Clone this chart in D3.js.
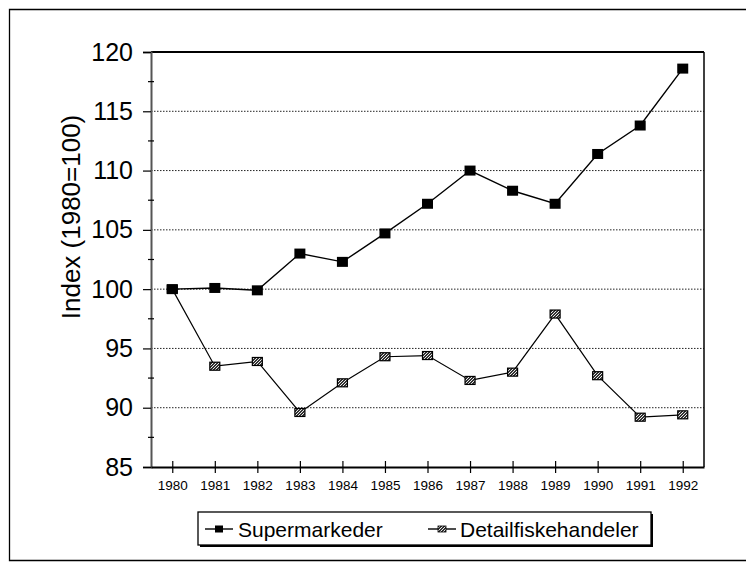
<!DOCTYPE html>
<html>
<head>
<meta charset="utf-8">
<script src="https://cdn.jsdelivr.net/npm/d3@7/dist/d3.min.js"></script>
<style>
  html, body { margin: 0; padding: 0; background: #fff; }
  svg { display: block; }
</style>
</head>
<body>
<svg id="chart" width="746" height="564"></svg>
<script>
const years = ["1980","1981","1982","1983","1984","1985","1986","1987","1988","1989","1990","1991","1992"];
const supermarkeder = [100, 100.1, 99.9, 103.0, 102.3, 104.7, 107.2, 110.0, 108.3, 107.2, 111.4, 113.8, 118.6];
const detailfiskehandeler = [100, 93.5, 93.9, 89.6, 92.1, 94.3, 94.4, 92.3, 93.0, 97.9, 92.7, 89.2, 89.4];
const yTicks = [85, 90, 95, 100, 105, 110, 115, 120];
const gridValues = [90, 95, 100, 105, 110, 115];
const seriesNames = ["Supermarkeder", "Detailfiskehandeler"];
const yTitle = "Index (1980=100)";

(function () {
const svg = d3.select("#chart");
const font = "'Liberation Sans', Arial, sans-serif";

const defs = svg.append("defs");
const pat = defs.append("pattern").attr("id", "hatch").attr("patternUnits", "userSpaceOnUse")
  .attr("width", 3).attr("height", 3);
pat.append("rect").attr("width", 3).attr("height", 3).attr("fill", "#333");
pat.append("path").attr("d", "M0,3 L3,0").attr("stroke", "#fff").attr("stroke-width", 0.9);

// outer frame
svg.append("path").attr("d", "M760,9.5 L9.5,9.5 L9.5,560.5 L760,560.5")
  .attr("fill", "none").attr("stroke", "#000").attr("stroke-width", 1.3);

const pL = 151, pR = 704, pT = 52, pB = 467;
const x = d3.scalePoint().domain(years).range([pL, pR]).padding(0.5);
const y = d3.scaleLinear().domain([85, 120]).range([pB, pT]);

svg.append("g").selectAll("line").data(gridValues).join("line")
  .attr("x1", pL).attr("x2", pR)
  .attr("y1", d => y(d)).attr("y2", d => y(d))
  .attr("stroke", "#222").attr("stroke-width", 1).attr("stroke-dasharray", "1.5,1.5");

svg.append("line").attr("x1", pL).attr("x2", pR).attr("y1", pT).attr("y2", pT)
  .attr("stroke", "#000").attr("stroke-width", 2);
svg.append("line").attr("x1", pR).attr("x2", pR).attr("y1", pT).attr("y2", pB)
  .attr("stroke", "#000").attr("stroke-width", 1.5);

const yAxis = d3.axisLeft(y).tickValues(yTicks).tickSize(8).tickPadding(10);
const gy = svg.append("g").attr("transform", `translate(${pL},0)`).call(yAxis);
gy.select(".domain").attr("stroke", "#555").attr("stroke-width", 2);
gy.selectAll(".tick line").attr("stroke", "#000").attr("stroke-width", 1.2);
gy.selectAll("text").attr("font-family", font).attr("font-size", 25).attr("fill", "#000");
const minor = d3.range(87.5, 120, 5);
svg.append("g").selectAll("line").data(minor).join("line")
  .attr("x1", pL - 3).attr("x2", pL + 3)
  .attr("y1", d => y(d)).attr("y2", d => y(d))
  .attr("stroke", "#000").attr("stroke-width", 1.2);

const xAxis = d3.axisBottom(x).tickSize(0).tickPadding(13);
const gx = svg.append("g").attr("transform", `translate(0,${pB})`).call(xAxis);
gx.select(".domain").attr("stroke", "#000").attr("stroke-width", 2);
gx.selectAll("text").attr("font-family", "'Liberation Sans Narrow', 'Liberation Sans', Arial, sans-serif")
  .attr("font-size", 13.5).attr("fill", "#000");
gx.selectAll(".tick").append("line").attr("y1", -6).attr("y2", 6)
  .attr("stroke", "#000").attr("stroke-width", 1.2);

svg.append("text").attr("transform", `translate(80,217) rotate(-90)`)
  .attr("text-anchor", "middle").attr("font-family", font).attr("font-size", 26)
  .text(yTitle);

const line = d3.line().x((d, i) => x(years[i])).y(d => y(d));
svg.append("path").datum(detailfiskehandeler).attr("d", line)
  .attr("fill", "none").attr("stroke", "#000").attr("stroke-width", 1.2);
svg.append("path").datum(supermarkeder).attr("d", line)
  .attr("fill", "none").attr("stroke", "#000").attr("stroke-width", 1.4);

svg.append("g").selectAll("rect").data(detailfiskehandeler).join("rect")
  .attr("x", (d, i) => x(years[i]) - 5).attr("y", d => y(d) - 4)
  .attr("width", 10).attr("height", 8)
  .attr("fill", "url(#hatch)").attr("stroke", "#000").attr("stroke-width", 1.2);
svg.append("g").selectAll("rect").data(supermarkeder).join("rect")
  .attr("x", (d, i) => x(years[i]) - 5.5).attr("y", d => y(d) - 5)
  .attr("width", 11).attr("height", 10).attr("fill", "#000");

const lg = svg.append("g");
lg.append("rect").attr("x", 200).attr("y", 514).attr("width", 453).attr("height", 33).attr("fill", "#000");
lg.append("rect").attr("x", 198).attr("y", 512).attr("width", 453).attr("height", 33)
  .attr("fill", "#fff").attr("stroke", "#000").attr("stroke-width", 1.3);
const items = [
  { name: seriesNames[0], lx: 205, tx: 238, type: "solid" },
  { name: seriesNames[1], lx: 428, tx: 460, type: "hatch" }
];
items.forEach(it => {
  lg.append("line").attr("x1", it.lx).attr("x2", it.lx + 28).attr("y1", 529).attr("y2", 529)
    .attr("stroke", "#000").attr("stroke-width", 1.4);
  if (it.type === "solid") {
    lg.append("rect").attr("x", it.lx + 10).attr("y", 525.5).attr("width", 8).attr("height", 7).attr("fill", "#000");
  } else {
    lg.append("rect").attr("x", it.lx + 10).attr("y", 526).attr("width", 8).attr("height", 6)
      .attr("fill", "url(#hatch)").attr("stroke", "#000").attr("stroke-width", 0.8);
  }
  lg.append("text").attr("x", it.tx).attr("y", 536.5).attr("font-family", font).attr("font-size", 21)
    .text(it.name);
});
})();
</script>
</body>
</html>
